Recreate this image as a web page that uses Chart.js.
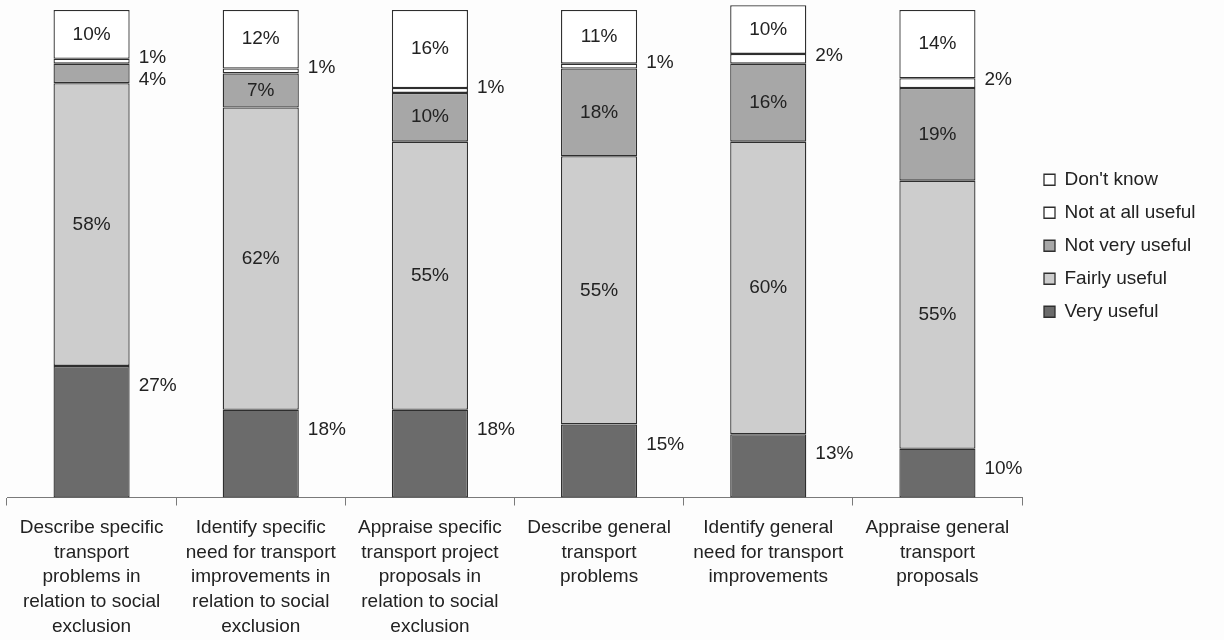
<!DOCTYPE html>
<html>
<head>
<meta charset="utf-8">
<script src="https://cdn.jsdelivr.net/npm/chart.js@4.4.0/dist/chart.umd.min.js"></script>
<style>
  html, body { margin: 0; padding: 0; background: #fdfdfd; }
  #wrap { width: 1224px; height: 640px; position: relative; }
</style>
</head>
<body>
<div id="wrap"><canvas id="c" width="1224" height="640"></canvas></div>
<script>
const categories = [
  ["Describe specific", "transport", "problems in", "relation to social", "exclusion"],
  ["Identify specific", "need for transport", "improvements in", "relation to social", "exclusion"],
  ["Appraise specific", "transport project", "proposals in", "relation to social", "exclusion"],
  ["Describe general", "transport", "problems"],
  ["Identify general", "need for transport", "improvements"],
  ["Appraise general", "transport", "proposals"]
];
const veryUseful     = [27, 18, 18, 15, 13, 10];
const fairlyUseful   = [58, 62, 55, 55, 60, 55];
const notVeryUseful  = [4, 7, 10, 18, 16, 19];
const notAtAllUseful = [1, 1, 1, 1, 2, 2];
const dontKnow       = [10, 12, 16, 11, 10, 14];

const FONT = "'Liberation Sans', Arial, sans-serif";

const labelPlugin = {
  id: 'segLabels',
  afterDatasetsDraw(chart) {
    const ctx = chart.ctx;
    ctx.save();
    ctx.font = "19px " + FONT;
    ctx.fillStyle = '#222';
    chart.data.datasets.forEach((ds, di) => {
      const meta = chart.getDatasetMeta(di);
      meta.data.forEach((bar, j) => {
        const v = ds.data[j];
        const top = Math.min(bar.y, bar.base), bottom = Math.max(bar.y, bar.base);
        const center = (top + bottom) / 2;
        const rightX = bar.x + bar.width / 2 + 9;
        const txt = v + '%';
        ctx.textBaseline = 'middle';
        if (ds.labelMode === 'below-top') {
          ctx.textAlign = 'left';
          ctx.fillText(txt, rightX, top + 20);
        } else if (v < 5) {
          ctx.textAlign = 'left';
          ctx.fillText(txt, rightX, center + (ds.labelMode === 'shift' ? 6 : -3));
        } else {
          ctx.textAlign = 'center';
          ctx.fillText(txt, bar.x, center);
        }
      });
    });
    ctx.restore();
  }
};

// Give the built-in legend the reference's column width and position.
const legendPlace = {
  id: 'legendPlace',
  afterInit(chart) {
    const lg = chart.legend;
    if (!lg) return;
    const fit = lg.fit.bind(lg);
    lg.fit = function () { fit(); this.width = 202; };
    const draw = lg.draw.bind(lg);
    lg.draw = function () {
      const ctx = this.ctx;
      ctx.save();
      ctx.translate(8, -8);
      draw();
      ctx.restore();
    };
  }
};

const common = { borderColor: '#2e2e2e', borderWidth: 1.3, borderSkipped: false, barPercentage: 0.45, categoryPercentage: 1.0, clip: false };

new Chart(document.getElementById('c'), {
  type: 'bar',
  data: {
    labels: categories,
    datasets: [
      Object.assign({ label: 'Very useful', data: veryUseful, backgroundColor: '#6b6b6b', labelMode: 'below-top' }, common),
      Object.assign({ label: 'Fairly useful', data: fairlyUseful, backgroundColor: '#cdcdcd' }, common),
      Object.assign({ label: 'Not very useful', data: notVeryUseful, backgroundColor: '#a7a7a7', labelMode: 'shift' }, common),
      Object.assign({ label: 'Not at all useful', data: notAtAllUseful, backgroundColor: '#ffffff' }, common),
      Object.assign({ label: "Don't know", data: dontKnow, backgroundColor: '#ffffff' }, common)
    ]
  },
  options: {
    responsive: false,
    animation: false,
    layout: { padding: { left: 7, right: 0, top: 10, bottom: -9 } },
    plugins: {
      legend: {
        position: 'right',
        fullSize: false,
        reverse: true,
        labels: {
          font: { family: FONT, size: 19 },
          color: '#222',
          boxWidth: 11,
          boxHeight: 11,
          padding: 14
        }
      },
      tooltip: { enabled: false }
    },
    scales: {
      x: {
        stacked: true,
        grid: { display: true, drawOnChartArea: false, drawTicks: true, tickLength: 8, offset: true, color: '#7a7a7a' },
        border: { display: true, color: '#7a7a7a', width: 1 },
        ticks: { font: { family: FONT, size: 19, lineHeight: 1.3 }, color: '#222', maxRotation: 0, autoSkip: false, padding: 10 }
      },
      y: {
        stacked: true,
        display: false,
        min: 0,
        max: 100
      }
    }
  },
  plugins: [labelPlugin, legendPlace]
});
</script>
</body>
</html>
